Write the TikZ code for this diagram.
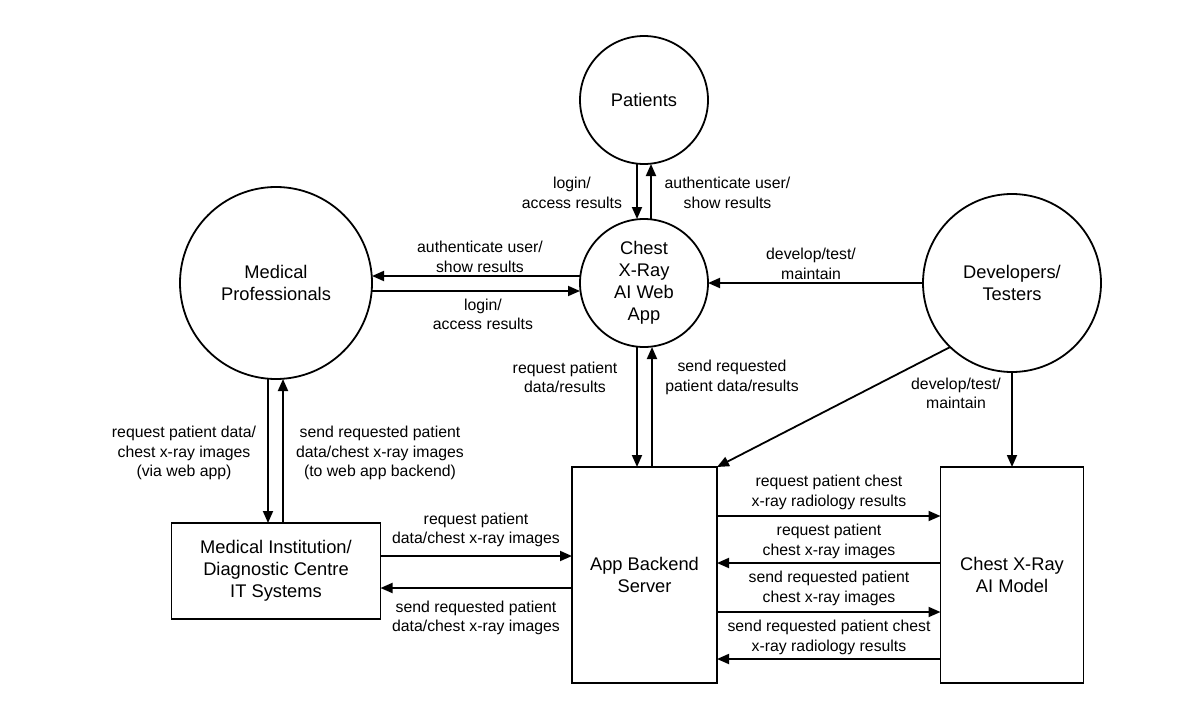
\documentclass[tikz,border=0pt]{standalone}
\usepackage{fontspec}
\setmainfont{Liberation Sans}
\usetikzlibrary{arrows.meta,calc}
\begin{document}
\begin{tikzpicture}[x=1pt,y=-1pt,
  every node/.style={inner sep=0pt, outer sep=0pt},
  ent/.style={circle, draw, line width=1.8pt, align=center, font=\fontsize{18.3}{22}\selectfont},
  box/.style={rectangle, draw, line width=1.8pt, align=center, font=\fontsize{18.3}{22}\selectfont},
  lab/.style={align=center, font=\fontsize{15.8}{19.3}\selectfont},
  arr/.style={line width=1.8pt, -{Triangle[length=12pt,width=10pt]}}]
\useasboundingbox (0,0) rectangle (1200,720);

% entities
\node[ent, minimum size=128pt] (pat) at (644,100) {Patients};
\node[ent, minimum size=128pt] (web) at (644,283) {Chest\\X-Ray\\AI Web\\App};
\node[ent, minimum size=192pt] (mp) at (276,283) {Medical\\Professionals};
\node[ent, minimum size=178pt] (dev) at (1012,283) {Developers/\\Testers};
\node[box, minimum width=209pt, minimum height=96pt] (inst) at (276,571) {Medical Institution/\\Diagnostic Centre\\IT Systems};
\node[box, minimum width=145pt, minimum height=216pt] (back) at (644.5,575) {App Backend\\Server};
\node[box, minimum width=143pt, minimum height=216pt] (ai) at (1012,575) {Chest X-Ray\\AI Model};

% patients <-> web app
\draw[arr] ([xshift=-7pt]pat.south) -- ([xshift=-7pt]web.north);
\draw[arr] ([xshift=7pt]web.north) -- ([xshift=7pt]pat.south);

% medical professionals <-> web app
\draw[arr] ([yshift=7pt]web.west) -- ([yshift=7pt]mp.east);
\draw[arr] ([yshift=-8pt]mp.east) -- ([yshift=-8pt]web.west);

% developers -> web app
\draw[arr] (dev.west) -- (web.east);

% web app <-> backend
\coordinate (wb1) at ([xshift=-7pt]web.south);
\coordinate (wb2) at ([xshift=8pt]web.south);
\draw[arr] (wb1) -- (wb1 |- back.north);
\draw[arr] (wb2 |- back.north) -- (wb2);

% developers -> backend, developers -> AI model
\draw[arr] (dev.226) -- (back.north east);
\draw[arr] (dev.south) -- (ai.north);

% medical professionals <-> institution
\coordinate (mi1) at ([xshift=-8pt]mp.south);
\coordinate (mi2) at ([xshift=7pt]mp.south);
\draw[arr] (mi1) -- (mi1 |- inst.north);
\draw[arr] (mi2 |- inst.north) -- (mi2);

% institution <-> backend
\coordinate (ib1) at ([yshift=15pt]inst.east);
\coordinate (ib2) at ([yshift=-17pt]inst.east);
\draw[arr] (ib1) -- (ib1 -| back.west);
\draw[arr] (ib2 -| back.west) -- (ib2);

% backend <-> AI model
\draw[arr] ([yshift=59pt]back.east) -- ([yshift=59pt]ai.west);
\draw[arr] ([yshift=12pt]ai.west) -- ([yshift=12pt]back.east);
\draw[arr] ([yshift=-37pt]back.east) -- ([yshift=-37pt]ai.west);
\draw[arr] ([yshift=-84pt]ai.west) -- ([yshift=-84pt]back.east);

% labels
\node[lab] (l1) at (572,193) {login/\\access results};
\node[lab] (l2) at (727.5,193) {authenticate user/\\show results};
\node[lab] (l3) at (480,257) {authenticate user/\\show results};
\node[lab] (l4) at (483,314) {login/\\access results};
\node[lab] (l5) at (811,264) {develop/test/\\maintain};
\node[lab] (l6) at (565,377.5) {request patient\\data/results};
\node[lab] (l7) at (732,377.5) {send requested\\patient data/results};
\node[lab] (l8) at (956,393) {develop/test/\\maintain};
\node[lab] (l9) at (184,453) {request patient data/\\chest x-ray images\\(via web app)};
\node[lab] (l10) at (380,453) {send requested patient\\data/chest x-ray images\\(to web app backend)};
\node[lab] (l11) at (476,530) {request patient\\data/chest x-ray images};
\node[lab] (l12) at (476,618) {send requested patient\\data/chest x-ray images};
\node[lab] (l13) at (829,492.5) {request patient chest\\x-ray radiology results};
\node[lab] (l14) at (829,541.5) {request patient\\chest x-ray images};
\node[lab] (l15) at (829,588.5) {send requested patient\\chest x-ray images};
\node[lab] (l16) at (829,637.5) {send requested patient chest\\x-ray radiology results};
\end{tikzpicture}
\end{document}
